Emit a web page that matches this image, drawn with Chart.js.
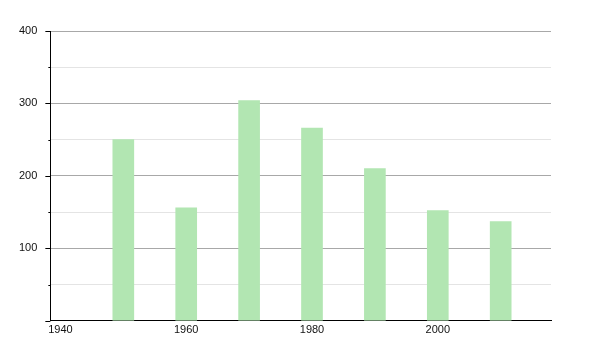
<!DOCTYPE html>
<html>
<head>
<meta charset="utf-8">
<script src="https://cdn.jsdelivr.net/npm/chart.js@4"></script>
<style>
  html, body { margin: 0; padding: 0; background: #fff; }
  #wrap { width: 600px; height: 350px; }
</style>
</head>
<body>
<div id="wrap"><canvas id="bar-chart"></canvas></div>
<script>
// data
const years = [1950, 1960, 1970, 1980, 1990, 2000, 2010];
const values = [250, 156, 304, 266, 210, 152, 137];
const xTicks = [1940, 1960, 1980, 2000];

// short/long tick marks on the y axis (long at labelled values)
const yTickMarks = {
  id: 'yTickMarks',
  afterDraw(chart) {
    const s = chart.scales.y, ctx = chart.ctx;
    ctx.save();
    ctx.strokeStyle = '#000';
    ctx.lineWidth = 1;
    s.ticks.forEach(t => {
      const y = Math.round(s.getPixelForValue(t.value)) + 0.5;
      const len = t.value % 100 === 0 ? 5 : 2;
      ctx.beginPath();
      ctx.moveTo(s.right - len, y);
      ctx.lineTo(s.right, y);
      ctx.stroke();
    });
    ctx.restore();
  }
};

Chart.defaults.font.family = '"Liberation Sans", Arial, sans-serif';
Chart.defaults.font.size = 11;
Chart.defaults.color = '#111';

new Chart(document.getElementById('bar-chart'), {
  type: 'bar',
  data: {
    datasets: [{
      data: years.map((y, i) => ({ x: y, y: values[i] })),
      backgroundColor: '#b2e6b2',
      barThickness: 21
    }]
  },
  options: {
    responsive: true,
    maintainAspectRatio: false,
    animation: false,
    layout: { padding: { top: 31, right: 49, bottom: 10, left: 6 } },
    plugins: { legend: { display: false }, tooltip: { enabled: false } },
    scales: {
      x: {
        type: 'linear',
        offset: false,
        min: 1938.4,
        max: 2018,
        afterBuildTicks: s => { s.ticks = xTicks.map(v => ({ value: v })); },
        ticks: { callback: v => String(v), padding: 3, maxRotation: 0, autoSkip: false },
        grid: { display: false, drawTicks: false, offset: false },
        border: { display: true, color: '#000', width: 1 }
      },
      y: {
        min: 0,
        max: 400,
        ticks: {
          stepSize: 50,
          padding: 13,
          callback: v => (v % 100 === 0 && v !== 0 ? String(v) : '')
        },
        grid: {
          drawTicks: false,
          color: c => (c.tick && c.tick.value % 100 === 0 ? '#a8a8a8' : '#e4e4e4')
        },
        border: { display: true, color: '#000', width: 1 }
      }
    }
  },
  plugins: [yTickMarks]
});
</script>
</body>
</html>
